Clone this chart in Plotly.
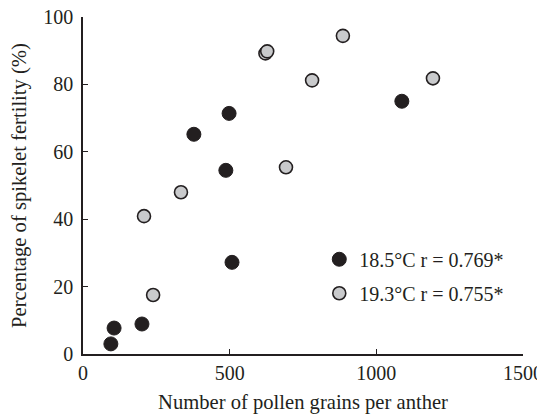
import plotly.graph_objects as go

# 18.5 °C plants
pollen_185 = [95, 106, 201, 378, 487, 498, 508, 1087]
fertility_185 = [3.0, 7.7, 8.9, 65.2, 54.5, 71.4, 27.2, 75.0]

# 19.3 °C plants
pollen_193 = [208, 239, 334, 622, 628, 692, 781, 886, 1193]
fertility_193 = [40.9, 17.5, 48.0, 89.2, 89.8, 55.4, 81.2, 94.4, 81.8]

label_185 = "18.5°C r = 0.769*"
label_193 = "19.3°C r = 0.755*"

FONT = "Liberation Serif, Times New Roman, serif"
INK = "#231f20"

fig = go.Figure()
fig.add_trace(go.Scatter(
    x=pollen_185, y=fertility_185, mode="markers", name=label_185,
    legendgroup="a",
    marker=dict(size=14, color=INK, line=dict(color=INK, width=1)),
    cliponaxis=False,
))
fig.add_trace(go.Scatter(
    x=pollen_193, y=fertility_193, mode="markers", name=label_193,
    legendgroup="b",
    marker=dict(size=13, color="#c9cacc", line=dict(color=INK, width=1.6)),
    cliponaxis=False,
))

axis_common = dict(
    showgrid=False, zeroline=False, showline=True, linecolor=INK, linewidth=1.6,
    ticks="inside", ticklen=5, tickwidth=1.2, tickcolor=INK,
    tickfont=dict(family=FONT, size=20, color=INK),
    ticklabeloverflow="allow",
    automargin=False,
)

# the page body adds an 8px offset, so the figure is sized/margined for that
fig.update_layout(
    width=537, height=409,
    margin=dict(l=75, r=22, t=9, b=63),
    paper_bgcolor="white", plot_bgcolor="white",
    font=dict(family=FONT, color=INK),
    xaxis=dict(
        range=[0, 1500], tickvals=[0, 500, 1000, 1500],
        title=dict(text="Number of pollen grains per anther",
                   font=dict(family=FONT, size=20.6, color=INK), standoff=12),
        **axis_common,
    ),
    yaxis=dict(
        range=[0, 100], tickvals=[0, 20, 40, 60, 80, 100],
        ticklabelstandoff=4,
        title=dict(text="Percentage of spikelet fertility (%)",
                   font=dict(family=FONT, size=20.6, color=INK), standoff=21),
        **axis_common,
    ),
    showlegend=True,
    legend=dict(
        x=0.537, y=0.339, xanchor="left", yanchor="top",
        bgcolor="rgba(0,0,0,0)", traceorder="grouped", tracegroupgap=5,
        itemwidth=30,
        font=dict(family=FONT, size=20, color=INK),
    ),
)

fig.write_html("out.html")
